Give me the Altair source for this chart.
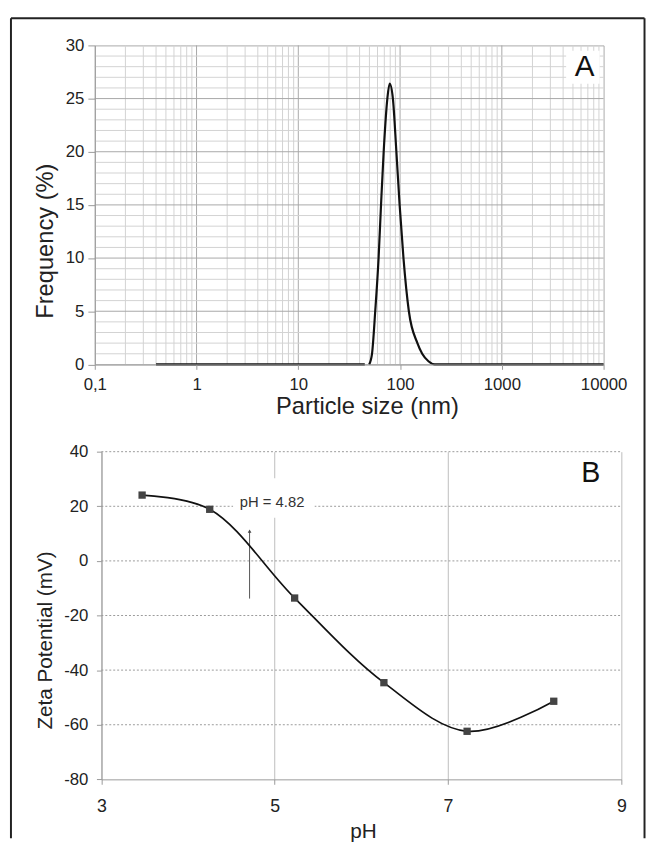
import altair as alt
import pandas as pd

FONT = "Liberation Sans"

# ---------- Panel A: particle size distribution ----------
size_nm = [0.4, 45, 49.7, 53, 57, 61.5, 65, 69, 75, 79, 85, 92, 99, 108, 122, 148, 165, 190, 220, 10000]
freq_pct = [0, 0, 0, 1, 5, 10, 15, 20, 25, 26.4, 25, 20, 15, 10, 5, 2, 1, 0.3, 0, 0]
segment = [0, 0] + [1] * 18

size_ticks = [0.1, 1, 10, 100, 1000, 10000]
freq_ticks = [0, 5, 10, 15, 20, 25, 30]

# ---------- Panel B: zeta potential vs pH ----------
ph_vals = [3.47, 4.25, 5.23, 6.26, 7.22, 8.22]
zeta_mv = [24.1, 18.9, -13.6, -44.6, -62.4, -51.4]
ph_ticks = [3, 5, 7, 9]
zeta_ticks = [-80, -60, -40, -20, 0, 20, 40]

iep_label = ["pH = 4.82"]
iep_text_ph = [4.97]
iep_text_mv = [21.7]
iep_box_ph = [4.52, 5.46]
iep_box_mv = [15.8, 30.3]
arrow_ph = [4.71]
arrow_from_mv = [-13.8]
arrow_to_mv = [10.9]

panel_a_label = ["A"]
panel_a_pos = [6500, 28.0]
panel_a_box = [4285, 9146, 26.4, 29.5]
panel_b_label = ["B"]
panel_b_pos = [8.646, 32.1]

# grid positions for the log paper
minor_x = [m * 10 ** e for e in range(-1, 4) for m in range(2, 10)]
major_x = [1, 10, 100, 1000]
minor_y = [v for v in range(1, 30) if v % 5]
major_y = [5, 10, 15, 20, 25]

GRID_MINOR = "#d2d2d2"
GRID_MAJOR = "#a8a8a8"
AXIS_COL = "#999999"
TXT = "#222222"

xs_a = alt.Scale(type="log", domain=[0.1, 10000], nice=False)
ys_a = alt.Scale(domain=[0, 30], nice=False)

df_a = pd.DataFrame({"size": size_nm, "freq": freq_pct, "seg": segment})

x_axis_a = alt.Axis(
    values=size_ticks, title="Particle size (nm)", grid=False,
    labelExpr="datum.value < 0.5 ? '0,1' : toString(round(datum.value))",
    tickSize=5, labelPadding=7.7, labelFlush=False, labelOverlap=False,
    labelFont=FONT, labelFontSize=17, labelColor=TXT,
    titleFont=FONT, titleFontSize=24, titleFontWeight="normal", titleColor=TXT,
    titleX=276, titleY=43, titleBaseline="middle", titleAlign="center",
    domainColor=AXIS_COL, tickColor=AXIS_COL, zindex=2)
y_axis_a = alt.Axis(
    values=freq_ticks, title="Frequency (%)", grid=False,
    labelExpr="toString(datum.value)",
    tickSize=7, labelPadding=4, labelFlush=False,
    labelFont=FONT, labelFontSize=17, labelColor=TXT,
    titleFont=FONT, titleFontSize=24, titleFontWeight="normal", titleColor=TXT,
    titleX=-50.3, titleY=198, titleBaseline="middle", titleAlign="center", titleAngle=270,
    domainColor=AXIS_COL, tickColor=AXIS_COL, zindex=2)

X_A = alt.X("size:Q", scale=xs_a)
Y_A = alt.Y("freq:Q", scale=ys_a)

axes_a = alt.Chart(df_a).mark_line(opacity=0).encode(
    x=alt.X("size:Q", scale=xs_a, axis=x_axis_a),
    y=alt.Y("freq:Q", scale=ys_a, axis=y_axis_a),
    detail="seg:N")

vminor = alt.Chart(pd.DataFrame({"size": minor_x})).mark_rule(color=GRID_MINOR, strokeWidth=1).encode(x=X_A)
vmajor = alt.Chart(pd.DataFrame({"size": major_x})).mark_rule(color=GRID_MAJOR, strokeWidth=1).encode(x=X_A)
hminor = alt.Chart(pd.DataFrame({"freq": minor_y})).mark_rule(color=GRID_MINOR, strokeWidth=1).encode(y=Y_A)
hmajor = alt.Chart(pd.DataFrame({"freq": major_y})).mark_rule(color=GRID_MAJOR, strokeWidth=1).encode(y=Y_A)

a_box = alt.Chart(pd.DataFrame({"size": [panel_a_box[0]], "x2": [panel_a_box[1]],
                                "freq": [panel_a_box[2]], "y2": [panel_a_box[3]]})).mark_rect(color="white").encode(
    x=X_A, x2="x2:Q", y=Y_A, y2="y2:Q")
a_text = alt.Chart(pd.DataFrame({"t": panel_a_label, "size": [panel_a_pos[0]], "freq": [panel_a_pos[1]]})).mark_text(
    font=FONT, fontSize=30, color="#111", align="center", baseline="middle").encode(
    x=X_A, y=Y_A, text="t:N")

curve_a = alt.Chart(df_a).mark_line(color="#111", strokeWidth=2.2, interpolate="monotone").encode(
    x=X_A, y=Y_A, detail="seg:N")

one = pd.DataFrame({"a": [0]})
frame_top = alt.Chart(one).mark_rule(color="#222", strokeWidth=2).encode(
    x=alt.value(-85), x2=alt.value(557.5), y=alt.value(-27.5))
frame_left = alt.Chart(one).mark_rule(color="#222", strokeWidth=2).encode(
    x=alt.value(-85), y=alt.value(-27.5), y2=alt.value(804))
frame_right = alt.Chart(one).mark_rule(color="#222", strokeWidth=2).encode(
    x=alt.value(557.5), y=alt.value(-27.5), y2=alt.value(804))

top = alt.layer(axes_a, vminor, vmajor, hminor, hmajor, a_box, a_text, curve_a,
                frame_top, frame_left, frame_right).properties(
    width=516, height=323.5, view=alt.ViewBackground(stroke="#aaaaaa", strokeWidth=1))

# ---------- bottom panel ----------
xs_b = alt.Scale(domain=[3, 9], range=[6.7, 534], nice=False)
ys_b = alt.Scale(domain=[-80, 40], nice=False)

df_b = pd.DataFrame({"ph": ph_vals, "zeta": zeta_mv})

x_axis_b = alt.Axis(
    values=ph_ticks, title="pH", grid=True, gridColor="#bdbdbd", gridWidth=1,
    labelExpr="toString(datum.value)",
    tickSize=5, labelPadding=13.4, labelFlush=False, labelOverlap=False,
    labelFont=FONT, labelFontSize=18, labelColor=TXT,
    titleFont=FONT, titleFontSize=21, titleFontWeight="normal", titleColor=TXT,
    titleX=272, titleY=53.4, titleBaseline="middle", titleAlign="center",
    domainColor=AXIS_COL, tickColor=AXIS_COL)
y_axis_b = alt.Axis(
    values=zeta_ticks, title="Zeta Potential (mV)", grid=False, offset=-6.7,
    labelExpr="toString(datum.value)",
    tickSize=5, labelPadding=8.7, labelFlush=False,
    labelFont=FONT, labelFontSize=17, labelColor=TXT,
    titleFont=FONT, titleFontSize=21, titleFontWeight="normal", titleColor=TXT,
    titleX=-56.7, titleY=191, titleBaseline="middle", titleAlign="center", titleAngle=270,
    domainColor=AXIS_COL, tickColor=AXIS_COL)

X_B = alt.X("ph:Q", scale=xs_b)
Y_B = alt.Y("zeta:Q", scale=ys_b)

axes_b = alt.Chart(df_b).mark_line(opacity=0).encode(
    x=alt.X("ph:Q", scale=xs_b, axis=x_axis_b),
    y=alt.Y("zeta:Q", scale=ys_b, axis=y_axis_b))

hg = [v for v in zeta_ticks if v > -80]
hgrid_b = alt.Chart(pd.DataFrame({"zeta": hg, "ph": [ph_ticks[0]] * len(hg), "x1": [ph_ticks[-1]] * len(hg)})).mark_rule(
    color="#9a9a9a", strokeWidth=1, strokeDash=[2, 2]).encode(y=Y_B, x=X_B, x2="x1:Q")

iep_box = alt.Chart(pd.DataFrame({"ph": [iep_box_ph[0]], "x2": [iep_box_ph[1]],
                                  "zeta": [iep_box_mv[0]], "y2": [iep_box_mv[1]]})).mark_rect(color="white").encode(
    x=X_B, x2="x2:Q", y=Y_B, y2="y2:Q")
iep_text = alt.Chart(pd.DataFrame({"t": iep_label, "ph": iep_text_ph, "zeta": iep_text_mv})).mark_text(
    font=FONT, fontSize=15, color="#333", align="center", baseline="middle").encode(
    x=X_B, y=Y_B, text="t:N")
arrow_line = alt.Chart(pd.DataFrame({"ph": arrow_ph, "zeta": arrow_from_mv, "y2": arrow_to_mv})).mark_rule(
    color="#555", strokeWidth=1).encode(x=X_B, y=Y_B, y2="y2:Q")
arrow_head = alt.Chart(pd.DataFrame({"ph": arrow_ph, "zeta": arrow_to_mv})).mark_point(
    shape="triangle-up", filled=True, size=14, color="#444", opacity=1).encode(x=X_B, y=Y_B)

line_b = alt.Chart(df_b).mark_line(color="#111", strokeWidth=1.7, interpolate="catmull-rom").encode(x=X_B, y=Y_B)
pts_b = alt.Chart(df_b).mark_square(size=55, color="#444", opacity=1).encode(x=X_B, y=Y_B)

b_text = alt.Chart(pd.DataFrame({"t": panel_b_label, "ph": [panel_b_pos[0]], "zeta": [panel_b_pos[1]]})).mark_text(
    font=FONT, fontSize=29, color="#111", align="center", baseline="middle").encode(
    x=X_B, y=Y_B, text="t:N")

bottom = alt.layer(axes_b, hgrid_b, iep_box, iep_text, arrow_line, arrow_head, line_b, pts_b, b_text).properties(
    width=534, height=332.3, view=alt.ViewBackground(stroke="transparent"))

chart = alt.vconcat(top, bottom, spacing=88, bounds="flush").properties(
    padding={"left": 1, "top": 3, "right": 0, "bottom": 0},
    background="white")

chart.save("out.html", embed_options={"renderer": "svg", "actions": False})
